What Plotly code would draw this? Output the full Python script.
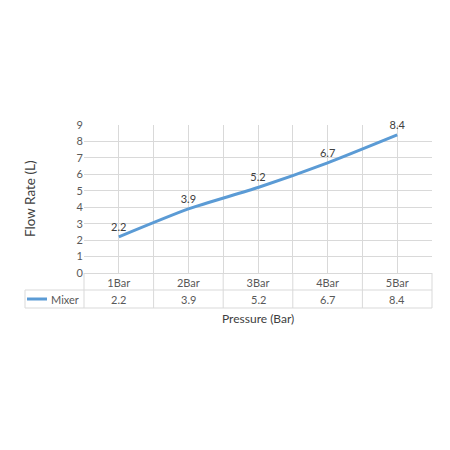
import plotly.graph_objects as go

categories = ["1Bar", "2Bar", "3Bar", "4Bar", "5Bar"]
series_name = "Mixer"
values = [2.2, 3.9, 5.2, 6.7, 8.4]
y_ticks = list(range(0, 10))

x_pos = [i + 0.5 for i in range(len(categories))]
n = len(categories)
FONT = "Lato, Open Sans, sans-serif"
TXT = "#595959"
GRID = "#d9d9d9"
LINE = "#5b9bd5"

fig = go.Figure()
fig.add_trace(go.Scatter(
    x=x_pos, y=values, mode="lines+markers+text", name=series_name,
    text=[str(v) for v in values], textposition="top center",
    textfont=dict(size=11, color="#404040", family=FONT),
    marker=dict(size=4, color="rgba(0,0,0,0)"),
    line=dict(color=LINE, width=3, shape="spline", smoothing=0.6),
    showlegend=False, cliponaxis=False,
))

ph = 148.0
pw = 348.0
r1 = -17.0 / ph
r2 = -35.0 / ph
left = -59.0 / pw
mid = (r1 + r2) / 2

shapes = []
shapes.append(dict(type="line", xref="paper", yref="paper", x0=left, x1=1, y0=r1, y1=r1, line=dict(color=GRID, width=1)))
shapes.append(dict(type="line", xref="paper", yref="paper", x0=left, x1=1, y0=r2, y1=r2, line=dict(color=GRID, width=1)))
shapes.append(dict(type="line", xref="paper", yref="paper", x0=left, x1=left, y0=r1, y1=r2, line=dict(color=GRID, width=1)))
for i in range(n + 1):
    shapes.append(dict(type="line", xref="paper", yref="paper", x0=i / n, x1=i / n, y0=0, y1=r2, line=dict(color=GRID, width=1)))
shapes.append(dict(type="line", xref="paper", yref="paper", x0=left + 2.0 / pw, x1=left + 22.0 / pw,
                   y0=mid, y1=mid, line=dict(color=LINE, width=3)))

annotations = []
for xp, v in zip(x_pos, values):
    annotations.append(dict(x=xp / n, y=mid, xref="paper", yref="paper", text=str(v), showarrow=False,
                            xanchor="center", yanchor="middle",
                            font=dict(size=11, color=TXT, family=FONT)))
annotations.append(dict(x=left + 24.0 / pw, y=mid, xref="paper", yref="paper", text=series_name,
                        showarrow=False, xanchor="left", yanchor="middle",
                        font=dict(size=11, color=TXT, family=FONT)))
annotations.append(dict(x=0.5, y=-45.0 / ph, xref="paper", yref="paper", text="Pressure (Bar)", showarrow=False,
                        xanchor="center", yanchor="middle",
                        font=dict(size=12, color="#404040", family=FONT)))
annotations.append(dict(x=-54.0 / pw, y=0.5, xref="paper", yref="paper", text="Flow Rate (L)", showarrow=False,
                        xanchor="center", yanchor="middle",
                        textangle=-90, font=dict(size=13.5, color="#404040", family=FONT)))

fig.update_layout(
    width=450, height=450,
    margin=dict(l=76, r=26, t=117, b=185, autoexpand=False),
    paper_bgcolor="white", plot_bgcolor="white",
    shapes=shapes, annotations=annotations, hovermode=False,
    xaxis=dict(range=[0, n], tickvals=x_pos, ticktext=categories, showgrid=True, gridcolor=GRID,
               tickfont=dict(size=11, color=TXT, family=FONT), ticks="", zeroline=False,
               minor=dict(tickvals=list(range(n + 1)), showgrid=True, gridcolor=GRID),
               showline=True, linecolor=GRID, fixedrange=True, automargin=False),
    yaxis=dict(range=[0, 9], tickvals=y_ticks, showgrid=True, gridcolor=GRID,
               tickfont=dict(size=11, color=TXT, family=FONT), ticks="", zeroline=False,
               showline=False, fixedrange=True, automargin=False),
)

fig.write_html("out.html")
